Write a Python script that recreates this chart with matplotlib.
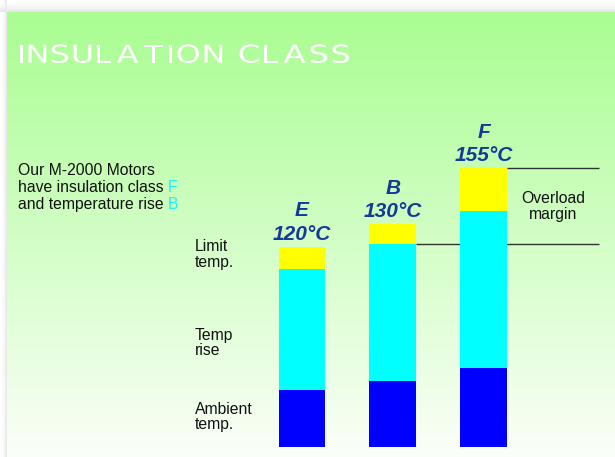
import numpy as np
import matplotlib
matplotlib.use('Agg')
import matplotlib.pyplot as plt
from matplotlib.textpath import TextPath
from matplotlib.patches import PathPatch
from matplotlib.font_manager import FontProperties
from matplotlib.transforms import Affine2D

plt.rcParams['font.family'] = 'Liberation Sans'

# insulation classes and their temperature build-up (deg C)
classes = ['E', 'B', 'F']
limit_temps = [120, 130, 155]
ambient_top = [56, 60, 66]
rise_top = [110, 121, 136]

W, H = 615, 457
fig = plt.figure(figsize=(W / 100, H / 100), dpi=100)


def px(x, y):
    # pixel position (from top-left) -> figure fraction
    return x / W, 1 - y / H


# green panel with soft shadow on top and left
bg = fig.add_axes([0, 0, 1, 1], zorder=0)
yy = np.arange(H)[:, None].astype(float)
xx = np.arange(W)[None, :].astype(float)
top = np.array([169, 253, 145]) / 255
bot = np.array([251, 255, 249]) / 255
t = np.clip((yy - 12) / (H - 12), 0, 1)[..., None]
img = np.broadcast_to(top * (1 - t) + bot * t, (H, W, 3)).copy()
gray = np.ones((H, W))
gray = np.minimum(gray, np.where(yy < 12, 1 - 0.12 * (yy / 12) ** 2, 1))
gray = np.minimum(gray, np.where(xx < 7, 1 - 0.12 * (xx / 7) ** 2, 1))
shadow = (yy < 12) | (xx < 7)
img[shadow] = gray[shadow][:, None] * np.ones(3)
bg.imshow(img, aspect='auto', extent=(0, W, H, 0))
bg.set_xlim(0, W)
bg.set_ylim(H, 0)
bg.axis('off')

# wide, letter-spaced title drawn as stretched glyph outlines
title = 'INSULATION CLASS'
prop = FontProperties(family='DejaVu Sans')
size, stretch = 24.7, 1.3
glyphs = []
for ch in title:
    if ch == ' ':
        glyphs.append(None)
        continue
    path = TextPath((0, 0), ch, size=size, prop=prop)
    ext = path.get_extents()
    glyphs.append((path, ext.x0, ext.width * stretch))
space_w = 12
n_letters = sum(1 for g in glyphs if g is not None)
track = (329 - sum(g[2] for g in glyphs if g) - space_w) / (n_letters - 1)
x = 20
for g in glyphs:
    if g is None:
        x += space_w
        continue
    path, x0, w = g
    tr = Affine2D().translate(-x0, 0).scale(stretch, -1).translate(x, 62.7)
    bg.add_patch(PathPatch(tr.transform_path(path), facecolor='white',
                           edgecolor='none', zorder=3))
    x += w + track

renderer = fig.canvas.get_renderer()

# intro text
fs = 11.3
fig.text(*px(18, 175), 'Our M-2000 Motors', fontsize=fs, color='#111111', va='baseline')
t2 = fig.text(*px(18, 192.4), 'have insulation class', fontsize=fs, color='#111111', va='baseline')
t3 = fig.text(*px(18, 209.4), 'and temperature rise', fontsize=fs, color='#111111', va='baseline')
for txt, letter in [(t2, 'F'), (t3, 'B')]:
    ext = txt.get_window_extent(renderer)
    fig.text((ext.x1 + 4) / W, txt.get_position()[1], letter, fontsize=fs,
             color='#1ff4f4', va='baseline')

# segment captions
for label, y in [('Limit', 250.7), ('temp.', 267), ('Temp', 340), ('rise', 355),
                 ('Ambient', 414), ('temp.', 429.5)]:
    fig.text(*px(195, y), label, fontsize=fs, color='#111111', va='baseline')

# stacked bars
ax = fig.add_axes([180 / W, (H - 447) / H, (W - 180) / W, (447 - 100) / H], zorder=1)
ax.patch.set_visible(False)
ax.set_xlim(-1.344, 3.448)
ax.set_ylim(30.5, 185.55)
ax.axis('off')

x = np.arange(len(classes))
bw = 0.514
ax.bar(x, ambient_top, bw, color='#0000ff', zorder=2)
ax.bar(x, np.subtract(rise_top, ambient_top), bw, bottom=ambient_top, color='#00ffff', zorder=2)
ax.bar(x, np.subtract(limit_temps, rise_top), bw, bottom=rise_top, color='#ffff00', zorder=2)

# overload margin between class B rise and class F limit
line_end = 3.273
ax.hlines(limit_temps[2], x[2] + bw / 2, line_end, color='#333333', lw=1, zorder=1)
ax.hlines(rise_top[1], x[1] + bw / 2, line_end, color='#333333', lw=1, zorder=1)
ax.text((x[2] + bw / 2 + line_end) / 2, (limit_temps[2] + rise_top[1]) / 2,
        'Overload\nmargin', fontsize=fs, color='#111111', ha='center', va='center',
        linespacing=1.15)

for i, (cls, temp) in enumerate(zip(classes, limit_temps)):
    ax.annotate(f'{temp}°C', (x[i], temp), xytext=(0, 5), textcoords='offset points',
                ha='center', va='baseline', fontsize=15, weight='bold', style='italic',
                color='#13399b')
    ax.annotate(cls, (x[i], temp), xytext=(0, 21.8), textcoords='offset points',
                ha='center', va='baseline', fontsize=15, weight='bold', style='italic',
                color='#13399b')

fig.savefig('out.png', dpi=100)
